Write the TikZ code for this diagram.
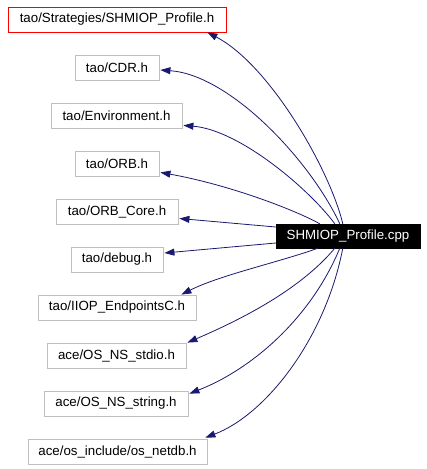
\documentclass[tikz,border=0pt]{standalone}
\usepackage{fontspec}
\setmainfont{Liberation Sans}
\usetikzlibrary{arrows.meta,calc}
\definecolor{edgeblue}{RGB}{25,25,112}
\definecolor{boxgray}{RGB}{191,191,191}
\begin{document}
\begin{tikzpicture}[x=1pt,y=-1pt,
  file/.style={draw=boxgray,line width=0.8pt,fill=white,inner sep=0pt,minimum height=25pt,font=\fontsize{13.3}{16}\selectfont},
  mainfile/.style={draw=red,line width=0.8pt,fill=white,inner sep=0pt,minimum height=25pt,font=\fontsize{13.3}{16}\selectfont},
  current/.style={draw=black,fill=black,text=white,inner sep=0pt,minimum height=24pt,font=\fontsize{13.3}{16}\selectfont},
  edge/.style={draw=edgeblue,line width=0.8pt,-{Triangle[length=10pt,width=7pt]}}]
\useasboundingbox (0,0) rectangle (427,469);
\node[mainfile,minimum width=218pt] (n1) at (117,19.5) {tao/Strategies/SHMIOP\_Profile.h};
\node[file,minimum width=84pt] (cdr) at (117,67.5) {tao/CDR.h};
\node[file,minimum width=131pt] (env) at (116.5,115.5) {tao/Environment.h};
\node[file,minimum width=84pt] (orb) at (117,163.5) {tao/ORB.h};
\node[file,minimum width=122pt] (core) at (117,211.5) {tao/ORB\_Core.h};
\node[file,minimum width=92pt] (dbg) at (117,259.5) {tao/debug.h};
\node[file,minimum width=158pt] (iiop) at (117,307.5) {tao/IIOP\_EndpointsC.h};
\node[file,minimum width=139pt] (stdio) at (116.5,355.5) {ace/OS\_NS\_stdio.h};
\node[file,minimum width=144pt] (str) at (116,403.5) {ace/OS\_NS\_string.h};
\node[file,minimum width=179pt] (netdb) at (117.5,451.5) {ace/os\_include/os\_netdb.h};
\node[current,minimum width=144pt] (cpp) at (348,236) {SHMIOP\_Profile.cpp};

\draw[edge] ($(cpp.north west)+(67,0)$) .. controls (330,170) and (270,65) .. ($(n1.south east)+(-19,0)$);
\draw[edge] ($(cpp.north west)+(64,0)$) .. controls (310,160) and (230,75) .. ($(cdr.east)+(1,2.5)$);
\draw[edge] ($(cpp.north west)+(59,0)$) .. controls (310,190) and (240,130) .. ($(env.south east)+(1,-3)$);
\draw[edge] ($(cpp.north west)+(44,0)$) .. controls (295,210) and (230,185) .. ($(orb.south east)+(1,-4)$);
\draw[edge] ($(cpp.west)+(0,-9)$) -- ($(core.east)+(1,7)$);
\draw[edge] ($(cpp.west)+(0,7)$) -- ($(dbg.east)+(1,-6.5)$);
\draw[edge] ($(cpp.south west)+(42,0)$) .. controls (280,262) and (220,275) .. ($(iiop.north east)+(-15,0)$);
\draw[edge] ($(cpp.south west)+(59,0)$) .. controls (300,290) and (240,320) .. ($(stdio.north east)+(1,0)$);
\draw[edge] ($(cpp.south west)+(64,0)$) .. controls (310,320) and (250,370) .. ($(str.north east)+(1,3)$);
\draw[edge] ($(cpp.south west)+(67,0)$) .. controls (325,340) and (265,415) .. ($(netdb.north east)+(-2,-1)$);
\end{tikzpicture}
\end{document}
